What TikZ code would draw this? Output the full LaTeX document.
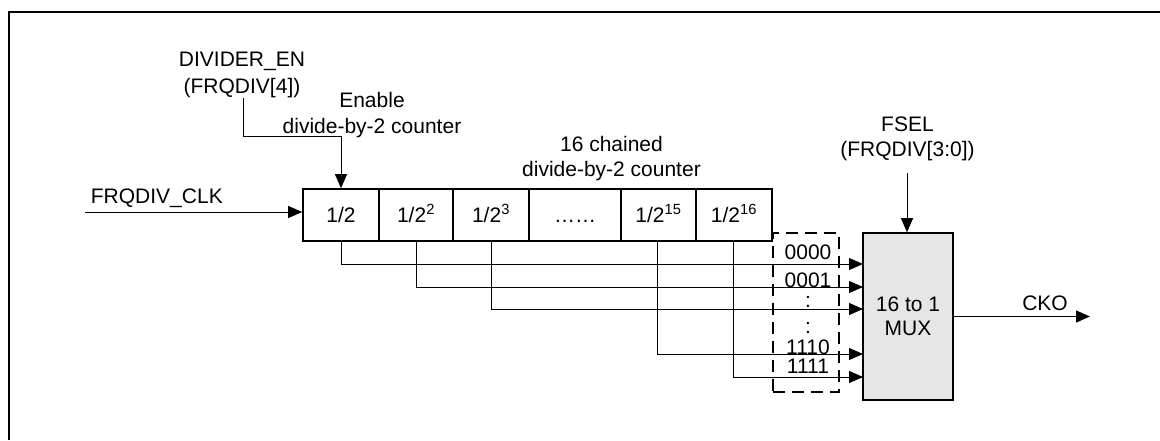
\documentclass[tikz,border=0pt]{standalone}
\usepackage{fontspec}
\setmainfont{Liberation Sans}
\usetikzlibrary{arrows.meta}
\definecolor{muxgray}{RGB}{230,230,230}
\tikzset{
  conn/.style={line width=1pt},
  arr/.style={line width=1pt,-{Triangle[length=14pt,width=12pt]}},
  cell/.style={draw,line width=1.6pt,minimum height=52pt,inner sep=0pt,text height=15pt,text depth=0pt},
  lbl/.style={anchor=base,inner sep=0pt},
  muxbox/.style={draw,line width=1.6pt,fill=muxgray,minimum width=90pt,minimum height=167pt,inner sep=0pt,align=center,font=\fontsize{21}{24.3}\selectfont},
  selbox/.style={draw,line width=1.6pt,dash pattern=on 12pt off 7pt,minimum width=66pt,minimum height=159pt,inner sep=0pt}
}
\begin{document}
\begin{tikzpicture}[x=1pt,y=-1pt,font=\fontsize{21}{25}\selectfont]
\useasboundingbox (0,0) rectangle (1160,440);
% frame (top and left edges)
\draw[line width=2.2pt] (9,440) -- (9,12) -- (1160,12);

% counter cells
\node[cell,minimum width=76pt] (c1) at (341,215) {1/2};
\node[cell,minimum width=74pt] (c2) at (416,215) {1/2\textsuperscript{2}};
\node[cell,minimum width=76pt] (c3) at (491,215) {1/2\textsuperscript{3}};
\node[cell,minimum width=92pt] (c4) at (575,215) {……};
\node[cell,minimum width=75pt] (c5) at (658.5,215) {1/2\textsuperscript{15}};
\node[cell,minimum width=76pt] (c6) at (734,215) {1/2\textsuperscript{16}};

% MUX
\node[muxbox] (m) at (908,316.5) {16 to 1\\MUX};

% dashed selection box
\node[selbox] (dbox) at (806,312.5) {};

% labels
\node[lbl] (den1) at (242,66.5) {DIVIDER\_EN};
\node[lbl] (den2) at (242,93) {(FRQDIV[4])};
\node[lbl] (en1) at (372,107.3) {Enable};
\node[lbl] (en2) at (372,133.3) {divide-by-2 counter};
\node[lbl] (ch1) at (611.5,151.7) {16 chained};
\node[lbl] (ch2) at (611.5,176.7) {divide-by-2 counter};
\node[lbl,anchor=base west] (clk) at (90.7,203.3) {FRQDIV\_CLK};
\node[lbl] (fs1) at (907.5,131.7) {FSEL};
\node[lbl] (fs2) at (907.5,156.7) {(FRQDIV[3:0])};
\node[lbl] (cko) at (1045,310) {CKO};
\node[lbl] (s0) at (808,259.3) {0000};
\node[lbl] (s1) at (808,287.3) {0001};
\node[lbl] (d1) at (808,307) {:};
\node[lbl] (d2) at (808,333) {:};
\node[lbl] (s14) at (808,354) {1110};
\node[lbl] (s15) at (808,373.3) {1111};

% coordinates
\coordinate (denstart) at (243,98);
\coordinate (enk) at (341,136);
\coordinate (clkstart) at (85,212);
\coordinate (fsstart) at (907,173);
\coordinate (ckoend) at (1090,316.5);
\coordinate (in1) at (863,264);
\coordinate (in2) at (863,287);
\coordinate (in3) at (863,309);
\coordinate (in15) at (863,354);
\coordinate (in16) at (863,377);

% connectors
\draw[arr] (denstart) |- (enk) -- (c1.north);
\draw[arr] (clkstart) -- (clkstart -| c1.west);
\draw[arr] (c1.south) |- (in1);
\draw[arr] (c2.south) |- (in2);
\draw[arr] (c3.south) |- (in3);
\draw[arr] ([xshift=-1.5pt]c5.south) |- (in15);
\draw[arr] ([xshift=-1pt]c6.south) |- (in16);
\draw[arr] (fsstart) -- (fsstart |- m.north);
\draw[arr] (m.east) -- (ckoend);
\end{tikzpicture}
\end{document}
